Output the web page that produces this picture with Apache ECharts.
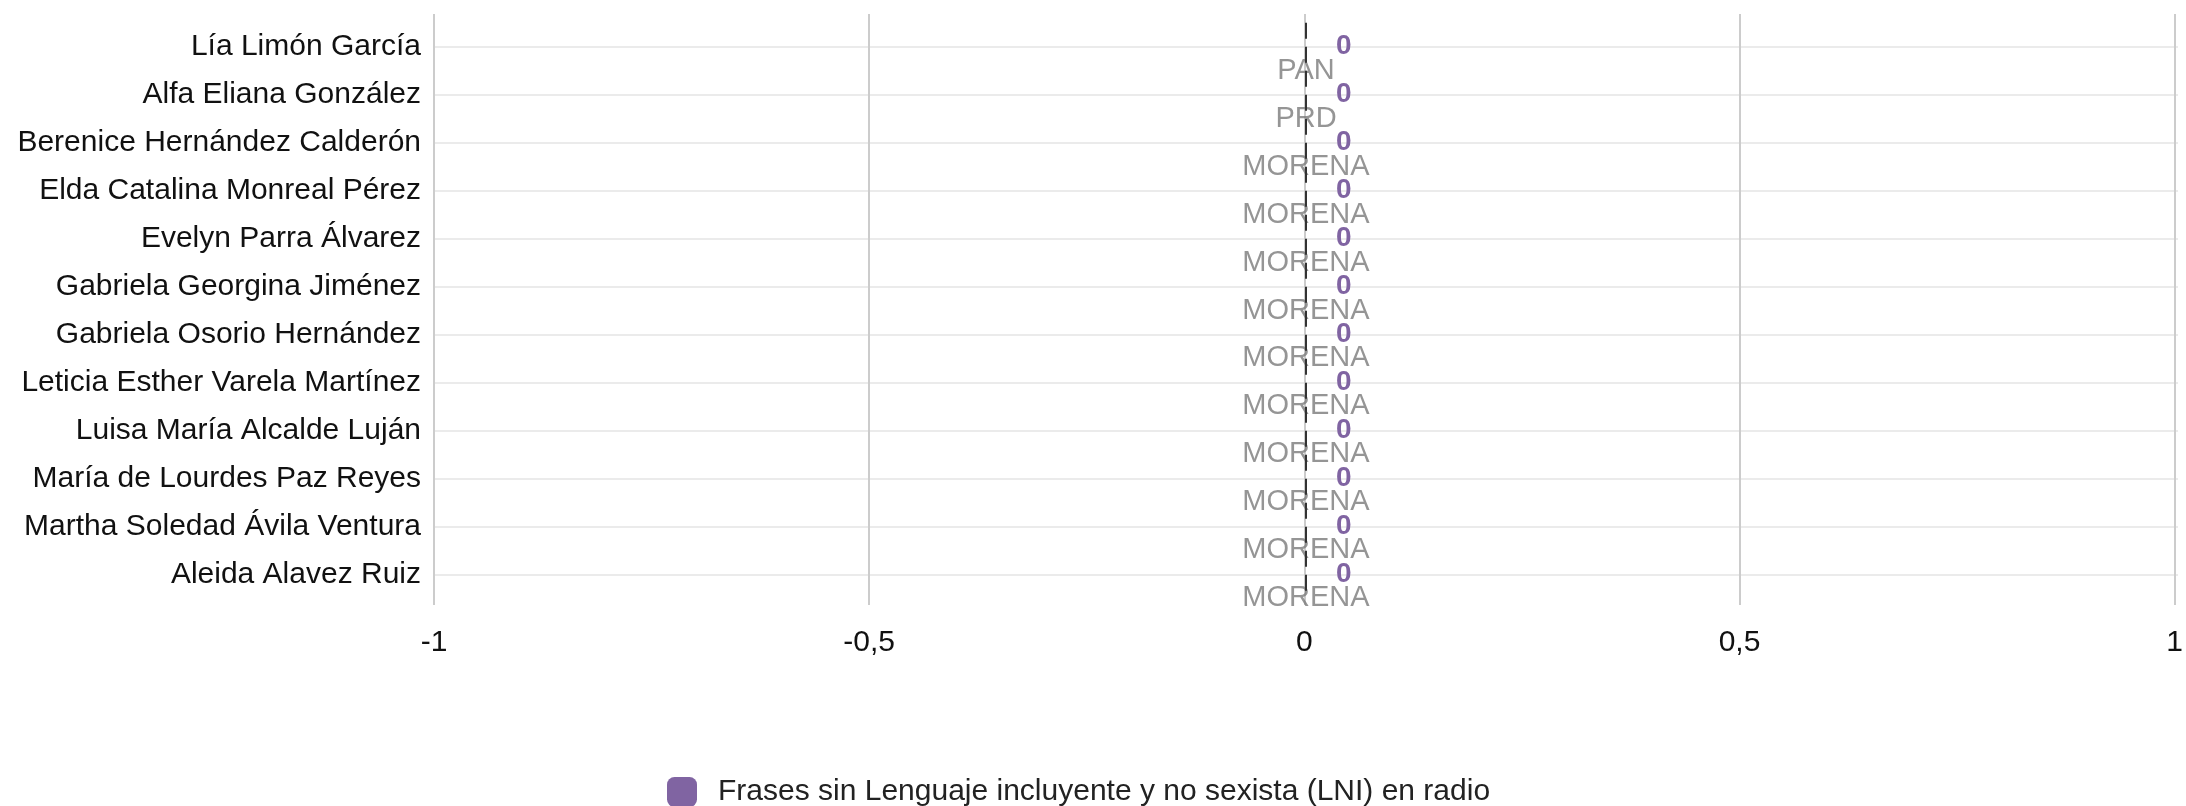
<!DOCTYPE html>
<html>
<head>
<meta charset="utf-8">
<script src="https://cdn.jsdelivr.net/npm/echarts@6/dist/echarts.min.js"></script>
<style>
html,body{margin:0;padding:0;background:#fff;}
#chart{width:2186px;height:806px;}
</style>
</head>
<body>
<div id="chart"></div>
<script>
const names = [
  "Lía Limón García",
  "Alfa Eliana González",
  "Berenice Hernández Calderón",
  "Elda Catalina Monreal Pérez",
  "Evelyn Parra Álvarez",
  "Gabriela Georgina Jiménez",
  "Gabriela Osorio Hernández",
  "Leticia Esther Varela Martínez",
  "Luisa María Alcalde Luján",
  "María de Lourdes Paz Reyes",
  "Martha Soledad Ávila Ventura",
  "Aleida Alavez Ruiz"
];
const parties = ["PAN","PRD","MORENA","MORENA","MORENA","MORENA","MORENA","MORENA","MORENA","MORENA","MORENA","MORENA"];
const values = [0,0,0,0,0,0,0,0,0,0,0,0];
const seriesName = "Frases sin Lenguaje incluyente y no sexista (LNI) en radio";
const xMin = -1, xMax = 1, xInterval = 0.5;

const FONT = "'Liberation Sans', Arial, sans-serif";
const PURPLE = "#8064a2";

const chart = echarts.init(document.getElementById('chart'));
const option = {
  backgroundColor: '#fff',
  animation: false,
  textStyle: {fontFamily: FONT},
  legend: {
    data: [{name: seriesName, icon: 'roundRect'}],
    left: 662,
    top: 772,
    itemWidth: 30,
    itemHeight: 30,
    textStyle: {fontSize: 30, color: '#222', fontFamily: FONT, padding: [0,0,0,16]}
  },
  grid: [
    {left: 434, right: 8, top: 14, bottom: 201, containLabel: false},
    {left: 434, right: 8, top: 22.7, bottom: 207.7, containLabel: false}
  ],
  xAxis: [
    {
      gridIndex: 0, type: 'value', min: xMin, max: xMax, interval: xInterval,
      axisLine: {show: false}, axisTick: {show: false},
      splitLine: {show: true, lineStyle: {color: '#cccccc', width: 2}},
      axisLabel: {
        fontSize: 30, color: '#111', margin: 23, fontFamily: FONT,
        formatter: v => String(v).replace('.', ',')
      }
    },
    {gridIndex: 1, type: 'value', min: xMin, max: xMax, interval: xInterval, show: false}
  ],
  yAxis: [
    {gridIndex: 0, type: 'value', show: false},
    {
      gridIndex: 1, type: 'category', data: names, inverse: true,
      axisLine: {show: false}, axisTick: {show: false},
      axisLabel: {fontSize: 30, color: '#111', margin: 13, fontFamily: FONT},
      splitLine: {show: true, alignWithLabel: true, lineStyle: {color: '#ebebeb', width: 2}}
    }
  ],
  series: [
    {
      name: seriesName,
      type: 'bar',
      xAxisIndex: 1, yAxisIndex: 1,
      data: values,
      barWidth: 24,
      itemStyle: {color: PURPLE},
      label: {
        show: true, position: 'right', distance: 30,
        color: PURPLE, fontWeight: 'bold', fontSize: 28, fontFamily: FONT
      },
      markLine: {
        silent: true, symbol: 'none',
        label: {show: false},
        lineStyle: {color: '#333', width: 2, type: [16, 8]},
        data: [{xAxis: 0}]
      }
    },
    {
      name: 'partido',
      type: 'scatter',
      xAxisIndex: 1, yAxisIndex: 1,
      symbolSize: 0,
      data: values.map((v, i) => [v, names[i]]),
      label: {
        show: true, position: 'inside', offset: [0, 24],
        formatter: p => parties[p.dataIndex],
        color: '#7a7a7a', fontSize: 29, fontFamily: FONT
      },
      z: 3
    }
  ]
};
chart.setOption(option);
</script>
</body>
</html>
